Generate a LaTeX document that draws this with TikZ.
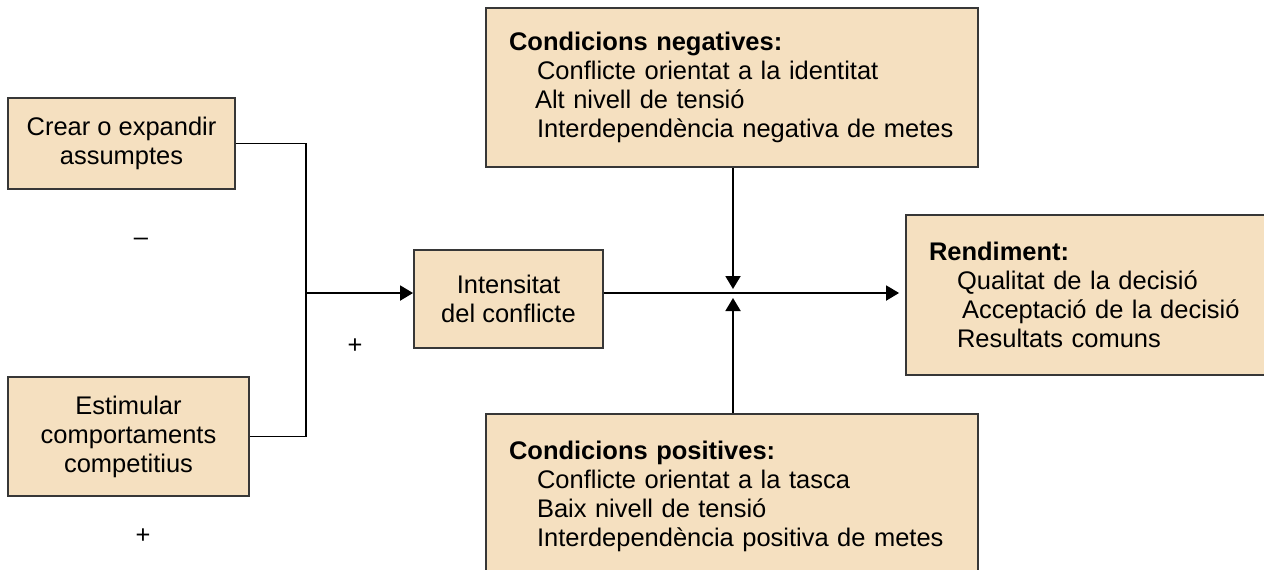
\documentclass[tikz,border=0pt]{standalone}
\usepackage{fontspec}
\setmainfont{Liberation Sans}
\usetikzlibrary{arrows.meta,positioning}
\definecolor{boxfill}{RGB}{245,224,192}
\definecolor{boxline}{RGB}{55,55,55}

\begin{document}
\begin{tikzpicture}[x=0.02cm,y=-0.02cm,line width=1.1pt,
  font=\fontsize{14.5}{16.5}\selectfont,
  >={Triangle[length=0.26cm,width=0.3cm]}]
  \tikzstyle{box}=[draw=boxline,fill=boxfill,rectangle,inner sep=0pt,align=center]
  \tikzstyle{list}=[box,align=left,inner xsep=0.42cm]
  \clip (0,0) rectangle (1264,569);

  \node[box,minimum width=4.54cm,minimum height=1.82cm] (in_1) at (121.5,143.5) {Crear o expandir\\assumptes};
  \node[box,minimum width=4.82cm,minimum height=2.38cm] (in_2) at (128.5,436.5) {Estimular\\comportaments\\competitius};
  \node[box,minimum width=3.78cm,minimum height=1.96cm] (int) at (508.5,299) {Intensitat\\del conflicte};

  \node[list,text width=9cm,minimum height=3.18cm] (neg) at (732,87.5)
    {\hspace*{0.04cm}\textbf{Condicions negatives:}\\
     \hspace*{0.6cm}Conflicte orientat a la identitat\\
     \hspace*{0.56cm}Alt nivell de tensió\\
     \hspace*{0.6cm}Interdependència negativa de metes};
  \node[list,text width=9cm,minimum height=3.28cm] (pos) at (732,496)
    {\hspace*{0.04cm}\textbf{Condicions positives:}\\
     \hspace*{0.6cm}Conflicte orientat a la tasca\\
     \hspace*{0.6cm}Baix nivell de tensió\\
     \hspace*{0.6cm}Interdependència positiva de metes};
  \node[list,text width=6.48cm,minimum height=3.2cm] (rend) at (1089,295)
    {\hspace*{0.04cm}\textbf{Rendiment:}\\
     \hspace*{0.6cm}Qualitat de la decisió\\
     \hspace*{0.7cm}Acceptació de la decisió\\
     \hspace*{0.6cm}Resultats comuns};

  \node (minus)  at (141,242) {–};
  \node (plus_1) at (355,346) {+};
  \node (plus_2) at (143,536) {+};

  \coordinate (join) at (306,293);
  \coordinate (hub)  at (733,293);

  \draw (in_1.east) -| (join) |- (in_2.east);
  \draw[->] (join) -- (int.west |- join);
  \draw[->] (int.east |- hub) -- ([xshift=-0.12cm]rend.west |- hub);
  \draw[->] (neg.south -| hub) -- ([yshift=0.08cm]hub);
  \draw[->] (pos.north -| hub) -- ([yshift=-0.1cm]hub);
\end{tikzpicture}
\end{document}
